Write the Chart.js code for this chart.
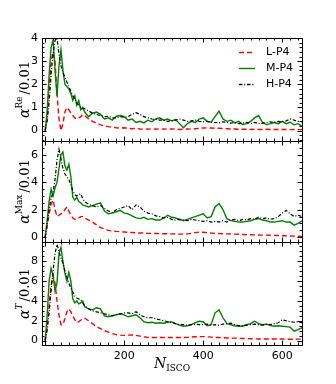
<!DOCTYPE html>
<html>
<head>
<meta charset="utf-8">
<script src="https://cdn.jsdelivr.net/npm/chart.js@4.4.1/dist/chart.umd.min.js"></script>
<style>
    html, body { margin: 0; padding: 0; background: #ffffff; }
    #wrap { position: relative; width: 336px; height: 384px; overflow: hidden; }
    #wrap canvas { position: absolute; left: 0; }
</style>
</head>
<body>
<div id="wrap">
    <canvas id="panelRe" width="336" height="150" style="top:0px"></canvas>
    <canvas id="panelMax" width="336" height="125" style="top:130px"></canvas>
    <canvas id="panelT" width="336" height="154" style="top:230px"></canvas>
</div>
<script>
// N_ISCO sample positions
const nIsco = [
    0, 5, 10, 15, 20, 25, 30, 35, 40, 45, 50, 55, 60, 65, 70, 75, 80, 85, 90, 95, 100,
    110, 120, 130, 140, 150, 160, 170, 180, 190, 200,
    210, 220, 230, 240, 250, 260, 270, 280, 290, 300,
    310, 320, 330, 340, 350, 360, 370, 380, 390, 400,
    410, 420, 430, 440, 450, 460, 470, 480, 490, 500,
    510, 520, 530, 540, 550, 560, 570, 580, 590, 600,
    610, 620, 630, 640, 650,
];

// alpha^Re / 0.01
const reL = [
    0, 0.6, 1.8, 3.0, 3.4, 3.0, 1.6, 0.5, 0.0, 0.3, 0.8, 1.0, 0.9, 0.75, 0.65, 0.55, 0.5, 0.55, 0.6, 0.7, 0.65,
    0.5, 0.4, 0.32, 0.25, 0.2, 0.17, 0.15, 0.12, 0.1, 0.12,
    0.1, 0.08, 0.1, 0.07, 0.06, 0.07, 0.06, 0.07, 0.06, 0.07,
    0.06, 0.07, 0.06, 0.05, 0.06, 0.07, 0.06, 0.08, 0.1, 0.11,
    0.12, 0.11, 0.1, 0.1, 0.09, 0.08, 0.07, 0.07, 0.06, 0.06,
    0.06, 0.05, 0.06, 0.05, 0.05, 0.06, 0.05, 0.05, 0.05, 0.05,
    0.05, 0.04, 0.05, 0.04, 0.04,
];
const reM = [
    0, 0.8, 2.4, 3.6, 3.9, 2.6, 1.5, 2.8, 3.5, 2.6, 2.0, 1.9, 1.8, 1.6, 1.3, 1.5, 1.1, 1.3, 0.9, 1.0, 0.8,
    0.6, 0.75, 0.8, 0.7, 0.5, 0.55, 0.45, 0.62, 0.65, 0.6,
    0.45, 0.5, 0.35, 0.4, 0.33, 0.45, 0.38, 0.5, 0.55, 0.45,
    0.5, 0.42, 0.48, 0.3, 0.12, 0.3, 0.4, 0.35, 0.5, 0.55,
    0.4, 0.36, 0.6, 0.84, 0.5, 0.4, 0.45, 0.33, 0.4, 0.26,
    0.3, 0.4, 0.55, 0.65, 0.35, 0.26, 0.3, 0.35, 0.3, 0.4,
    0.3, 0.36, 0.25, 0.3, 0.19,
];
const reH = [
    0, 0.4, 1.2, 2.4, 3.3, 3.9, 4.0, 3.3, 2.8, 2.5, 2.3, 2.1, 1.9, 1.7, 1.5, 1.35, 1.2, 1.1, 1.0, 0.95, 0.95,
    0.85, 0.75, 0.7, 0.65, 0.6, 0.62, 0.55, 0.55, 0.6, 0.58,
    0.6, 0.7, 0.77, 0.7, 0.6, 0.55, 0.5, 0.48, 0.45, 0.45,
    0.4, 0.42, 0.45, 0.5, 0.45, 0.4, 0.42, 0.45, 0.4, 0.38,
    0.4, 0.36, 0.35, 0.33, 0.38, 0.35, 0.32, 0.35, 0.3, 0.32,
    0.35, 0.3, 0.35, 0.3, 0.32, 0.35, 0.38, 0.35, 0.4, 0.38,
    0.42, 0.5, 0.45, 0.4, 0.38,
];

// alpha^Max / 0.01
const maxL = [
    0, 0.8, 1.7, 2.4, 2.7, 2.0, 1.5, 1.6, 1.7, 1.8, 2.0, 2.2, 1.9, 1.6, 1.4, 1.3, 1.3, 1.4, 1.5, 1.5, 1.4,
    1.25, 1.1, 0.9, 0.7, 0.6, 0.5, 0.45, 0.42, 0.4, 0.38,
    0.36, 0.34, 0.32, 0.3, 0.3, 0.28, 0.28, 0.27, 0.26, 0.25,
    0.25, 0.24, 0.23, 0.22, 0.22, 0.24, 0.28, 0.33, 0.37, 0.36,
    0.33, 0.3, 0.28, 0.26, 0.25, 0.24, 0.23, 0.22, 0.21, 0.2,
    0.19, 0.18, 0.17, 0.16, 0.15, 0.15, 0.14, 0.13, 0.12, 0.11,
    0.1, 0.09, 0.08, 0.07, 0.06,
];
const maxM = [
    0, 1.2, 2.6, 3.5, 3.0, 3.6, 4.0, 5.0, 6.0, 6.2, 5.2, 4.9, 5.3, 4.4, 2.9, 2.7, 2.9, 2.6, 2.5, 2.35, 2.3,
    2.2, 2.3, 2.4, 2.5, 1.9, 1.7, 1.75, 1.85, 1.95, 1.75,
    1.7, 1.55, 1.4, 1.35, 1.45, 1.3, 1.35, 1.25, 1.25, 1.4,
    1.6, 1.45, 1.4, 1.3, 1.2, 1.3, 1.4, 1.5, 1.6, 1.7,
    1.4, 1.5, 2.2, 2.45, 2.0, 1.35, 1.2, 1.15, 1.1, 1.1,
    1.15, 1.2, 1.3, 1.35, 1.25, 1.2, 1.1, 1.1, 1.15, 1.2,
    1.1, 1.1, 0.88, 1.0, 1.2,
];
const maxH = [
    0, 0.9, 2.0, 2.8, 3.3, 4.2, 5.6, 6.4, 5.7, 5.0, 4.6, 4.4, 4.2, 3.8, 3.4, 3.1, 3.0, 3.1, 3.15, 2.8, 2.6,
    2.4, 2.3, 2.2, 2.3, 2.1, 1.9, 1.8, 2.0, 2.1, 2.2,
    2.3, 2.0, 2.35, 2.2, 1.9, 1.75, 1.7, 1.55, 1.5, 1.4,
    1.45, 1.3, 1.25, 1.3, 1.25, 1.2, 1.3, 1.25, 1.2, 1.15,
    1.2, 1.1, 1.15, 1.1, 1.2, 1.1, 1.25, 1.3, 1.2, 1.3,
    1.25, 1.35, 1.3, 1.45, 1.35, 1.4, 1.3, 1.35, 1.5, 1.75,
    1.95, 1.7, 1.5, 1.6, 1.5,
];

// alpha^T / 0.01
const tL = [
    0, 1.5, 3.6, 5.6, 6.6, 5.8, 4.0, 2.6, 1.6, 1.6, 2.2, 2.9, 3.2, 2.9, 2.5, 2.1, 1.8, 1.9, 2.05, 2.2, 2.25,
    2.0, 1.7, 1.4, 1.2, 1.0, 0.85, 0.7, 0.6, 0.55, 0.52,
    0.55, 0.56, 0.52, 0.45, 0.38, 0.32, 0.3, 0.3, 0.3, 0.3,
    0.3, 0.3, 0.3, 0.3, 0.3, 0.32, 0.35, 0.38, 0.4, 0.4,
    0.38, 0.35, 0.3, 0.3, 0.28, 0.26, 0.25, 0.24, 0.22, 0.2,
    0.2, 0.18, 0.17, 0.16, 0.15, 0.15, 0.15, 0.15, 0.15, 0.15,
    0.14, 0.13, 0.12, 0.14, 0.15,
];
const tM = [
    0, 2.5, 6.0, 7.3, 6.6, 5.0, 5.8, 8.8, 9.4, 8.0, 6.8, 6.0, 6.9, 6.0, 4.2, 3.8, 4.0, 3.7, 3.8, 4.0, 3.4,
    3.2, 3.1, 3.3, 3.2, 2.5, 2.4, 2.5, 2.6, 2.7, 2.6,
    2.4, 2.5, 2.6, 2.3, 1.9, 1.8, 1.85, 1.75, 1.8, 1.75,
    1.85, 1.9, 1.7, 1.55, 1.45, 1.5, 1.6, 1.8, 1.95, 1.9,
    1.5, 1.6, 2.8, 3.1, 2.3, 1.7, 1.6, 1.5, 1.45, 1.45,
    1.6, 1.7, 1.95, 1.7, 1.6, 1.65, 1.5, 1.45, 1.5, 1.45,
    1.4, 1.35, 0.95, 1.1, 1.3,
];
const tH = [
    0, 1.0, 2.8, 5.0, 7.0, 8.8, 9.7, 9.0, 8.3, 7.8, 7.0, 6.4, 5.8, 5.3, 4.9, 4.5, 4.3, 4.2, 4.1, 3.8, 3.5,
    3.2, 3.0, 2.9, 2.8, 2.7, 2.6, 2.5, 2.6, 2.7, 2.8,
    2.8, 2.7, 2.9, 2.6, 2.4, 2.3, 2.3, 2.2, 2.1, 2.0,
    1.9, 1.8, 1.7, 1.6, 1.6, 1.55, 1.6, 1.65, 1.6, 1.6,
    1.65, 1.55, 1.6, 1.55, 1.65, 1.7, 1.75, 1.6, 1.5, 1.5,
    1.55, 1.6, 1.65, 1.6, 1.55, 1.65, 1.6, 1.7, 1.8, 2.1,
    2.0, 1.9, 1.85, 1.9, 1.8,
];

const seriesNames = ['L-P4', 'M-P4', 'H-P4'];
const seriesColors = ['#ff0000', '#008000', '#000000'];
const seriesDashes = [[5, 3], [], [3.5, 1.8, 1, 1.8]];

const tickFont = { family: 'DejaVu Sans', size: 11 };
const serif = 'DejaVu Serif';

function buildDatasets(values) {
    const widths = [1.4, 1.4, 1.2];
    return values.map((vals, k) => ({
        label: seriesNames[k],
        data: nIsco.map((n, i) => ({ x: n, y: vals[i] })),
        borderColor: seriesColors[k],
        borderDash: seriesDashes[k],
        borderWidth: widths[k],
        fill: false,
        pointRadius: 0,
        tension: 0,
        order: 2 - k,
    }));
}

function drawInwardTicks(ctx, chart, cfg) {
    const { left, right, top, bottom } = chart.chartArea;
    const xs = chart.scales.x;
    const ys = chart.scales.y;
    ctx.strokeStyle = '#000';
    ctx.lineWidth = 1;
    ctx.beginPath();
    for (let v = 0; v <= 650; v += 20) {
        const px = Math.round(xs.getPixelForValue(v)) + 0.5;
        const len = v % 200 === 0 ? 4.5 : 2.5;
        ctx.moveTo(px, top);
        ctx.lineTo(px, top + len);
        ctx.moveTo(px, bottom);
        ctx.lineTo(px, bottom - len);
    }
    const first = Math.ceil(cfg.yMin / cfg.yMinor);
    for (let k = first; k * cfg.yMinor <= cfg.yMax + 1e-9; k++) {
        const v = k * cfg.yMinor;
        const py = Math.round(ys.getPixelForValue(v)) + 0.5;
        const isMajor = Math.abs(v / cfg.yStep - Math.round(v / cfg.yStep)) < 1e-6;
        const len = isMajor ? 4.5 : 2.5;
        ctx.moveTo(left, py);
        ctx.lineTo(left + len, py);
        ctx.moveTo(right, py);
        ctx.lineTo(right - len, py);
    }
    ctx.stroke();
    ctx.strokeRect(Math.round(left) + 0.5, Math.round(top) + 0.5, Math.round(right - left), Math.round(bottom - top));
}

function drawYTitle(ctx, chart, sup, supItalic) {
    const { top, bottom } = chart.chartArea;
    const alphaFont = `italic 14px ${serif}`;
    const supFont = `${supItalic ? 'italic ' : ''}9px ${serif}`;
    const restFont = `13px ${serif}`;
    ctx.font = alphaFont;
    const wA = ctx.measureText('α').width;
    ctx.font = supFont;
    const wS = ctx.measureText(sup).width;
    ctx.font = restFont;
    const rest = '/0.01';
    const wR = ctx.measureText(rest).width;
    const total = wA + wS + 2 + wR;

    ctx.save();
    ctx.translate(24, (top + bottom) / 2);
    ctx.rotate(-Math.PI / 2);
    ctx.fillStyle = '#000';
    ctx.textBaseline = 'alphabetic';
    ctx.textAlign = 'left';
    let x = -total / 2;
    ctx.font = alphaFont;
    ctx.fillText('α', x, 5);
    x += wA;
    ctx.font = supFont;
    ctx.fillText(sup, x, -2);
    x += wS + 2;
    ctx.font = restFont;
    ctx.fillText(rest, x, 5);
    ctx.restore();
}

function drawLegend(ctx) {
    ctx.save();
    ctx.font = `11px ${tickFont.family}`;
    ctx.textBaseline = 'middle';
    ctx.textAlign = 'left';
    seriesNames.forEach((name, k) => {
        const y = 52.5 + k * 16;
        ctx.strokeStyle = seriesColors[k];
        ctx.lineWidth = 1.4;
        ctx.setLineDash(seriesDashes[k]);
        ctx.beginPath();
        ctx.moveTo(239, y);
        ctx.lineTo(255, y);
        ctx.stroke();
        ctx.setLineDash([]);
        ctx.fillStyle = '#000';
        ctx.fillText(name, 266, y);
    });
    ctx.restore();
}

function drawXTitle(ctx) {
    ctx.save();
    ctx.fillStyle = '#000';
    ctx.textBaseline = 'alphabetic';
    ctx.textAlign = 'left';
    const mainFont = `italic 14px ${serif}`;
    const subFont = `9px ${serif}`;
    ctx.font = mainFont;
    const wN = ctx.measureText('N').width;
    ctx.font = subFont;
    const wSub = ctx.measureText('ISCO').width;
    const x0 = 172 - (wN + wSub) / 2;
    ctx.font = mainFont;
    ctx.fillText('N', x0, 138);
    ctx.font = subFont;
    ctx.fillText('ISCO', x0 + wN, 141);
    ctx.restore();
}

function makePanel(canvasId, values, cfg) {
    const canvas = document.getElementById(canvasId);
    const decor = {
        id: 'decor_' + canvasId,
        afterDraw(chart) {
            const ctx = chart.ctx;
            ctx.save();
            drawInwardTicks(ctx, chart, cfg);
            drawYTitle(ctx, chart, cfg.sup, cfg.supItalic);
            if (cfg.legend) {
                drawLegend(ctx);
            }
            if (cfg.showX) {
                drawXTitle(ctx);
            }
            ctx.restore();
        },
    };

    return new Chart(canvas, {
        type: 'line',
        data: { datasets: buildDatasets(values) },
        options: {
            responsive: false,
            animation: false,
            events: [],
            layout: { padding: { top: cfg.padTop, bottom: cfg.padBottom, left: 0, right: 34 } },
            plugins: { legend: { display: false }, tooltip: { enabled: false } },
            scales: {
                x: {
                    type: 'linear',
                    min: -8,
                    max: 650,
                    display: cfg.showX,
                    grid: { display: false, drawTicks: false },
                    border: { display: false },
                    ticks: {
                        stepSize: 200,
                        includeBounds: false,
                        autoSkip: false,
                        maxRotation: 0,
                        padding: 5,
                        color: '#000',
                        font: tickFont,
                        callback: (v) => (v === 0 ? '' : String(v)),
                    },
                    afterFit: (scale) => {
                        scale.height = cfg.showX ? 39 : 0;
                        scale.paddingLeft = 0;
                        scale.paddingRight = 0;
                    },
                },
                y: {
                    type: 'linear',
                    min: cfg.yMin,
                    max: cfg.yMax,
                    grid: { display: false, drawTicks: false },
                    border: { display: false },
                    ticks: {
                        stepSize: cfg.yStep,
                        includeBounds: false,
                        padding: 4,
                        color: '#000',
                        font: tickFont,
                    },
                    afterFit: (scale) => {
                        scale.width = 42;
                        scale.paddingTop = 0;
                        scale.paddingBottom = 0;
                    },
                },
            },
        },
        plugins: [decor],
    });
}

makePanel('panelRe', [reL, reM, reH], {
    yMin: -0.45, yMax: 4, yStep: 1, yMinor: 0.2,
    padTop: 38, padBottom: 9, showX: false, legend: true, sup: 'Re', supItalic: false,
});
makePanel('panelMax', [maxL, maxM, maxH], {
    yMin: -0.35, yMax: 7, yStep: 2, yMinor: 0.5,
    padTop: 11, padBottom: 13, showX: false, legend: false, sup: 'Max', supItalic: false,
});
makePanel('panelT', [tL, tM, tH], {
    yMin: -0.45, yMax: 9.95, yStep: 2, yMinor: 0.5,
    padTop: 12, padBottom: 0, showX: true, legend: false, sup: 'T', supItalic: true,
});
</script>
</body>
</html>
